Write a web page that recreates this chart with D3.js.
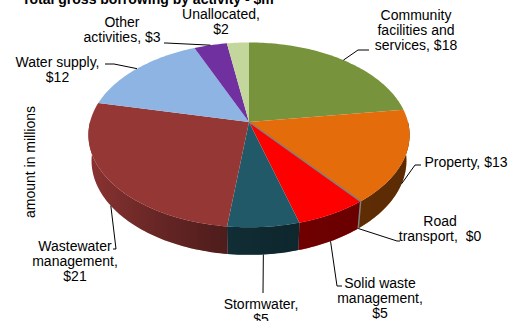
<!DOCTYPE html>
<html>
<head>
<meta charset="utf-8">
<script src="https://cdn.jsdelivr.net/npm/d3@7"></script>
<style>
  body { margin: 0; background: #fff; }
  svg { display: block; font-family: "Liberation Sans", Arial, sans-serif; }
</style>
</head>
<body>
<svg id="chart" width="511" height="321"></svg>
<script>
// ---- data ----
const categories = ["Community facilities and services", "Property", "Road transport",
  "Solid waste management", "Stormwater", "Wastewater management", "Water supply",
  "Other activities", "Unallocated"];
const values = [18, 13, 0, 5, 5, 21, 12, 3, 2];
const colors = ["#77933c", "#e46c0a", "#7f7f7f", "#ff0000", "#215968", "#953735",
  "#8db4e2", "#7030a0", "#c3d69b"];
// label lines; {v} is replaced by the slice value
const labelTemplates = [
  ["Community", "facilities and", "services, {v}"],
  ["Property, {v}"],
  ["Road", "transport,  {v}"],
  ["Solid waste", "management,", "{v}"],
  ["Stormwater,", "{v}"],
  ["Wastewater", "management,", "{v}"],
  ["Water supply,", "{v}"],
  ["Other", "activities, {v}"],
  ["Unallocated,", "{v}"]
];
const titleText = "Total gross borrowing by activity - $m";
const axisTitle = "amount in millions";

// ---- label layout: text centre / first baseline, leader knee and end, anchor on rim ----
const labelPos = [[416, 19.5], [466, 167], [440, 226], [380, 287.5], [261, 309],
  [75, 250.5], [57.5, 66.5], [122, 26.7], [221, 18.5]];
const leaderKnee = [[358, 50], [415, 165], [397, 241], [337, 286], [263, 293],
  [116, 249], [114, 64], [166, 43], null];
const leaderEnd = [[369, 50], [421, 165], [400, 241], [342, 286], [263, 293],
  [113, 249], [105, 64], [164, 43], null];
const anchorOnBottom = [false, true, true, true, true, true, false, false, false];

// ---- 3D projection of the pie ----
const cx = 249, cy = 122, R = 159, H = 32, D = 937;
const sinE = 0.57, cosE = Math.sqrt(1 - sinE * sinE);
function proj(theta, r, yw) {
  const back = r * Math.cos(theta);
  const X = r * Math.sin(theta);
  const u = yw * cosE + back * sinE;
  const v = back * cosE - yw * sinE;
  const s = D / (D + v);
  return [cx + X * s, cy - u * s];
}
function arcPoints(a0, a1, yw) {
  const n = Math.max(2, Math.ceil(Math.abs(a1 - a0) / 0.02));
  return d3.range(n + 1).map(i => proj(a0 + (a1 - a0) * i / n, R, yw));
}

const svg = d3.select("#chart");
const defs = svg.append("defs");
const shade = defs.append("linearGradient").attr("id", "sideShade")
  .attr("gradientUnits", "userSpaceOnUse")
  .attr("x1", cx - R).attr("x2", cx + R).attr("y1", 0).attr("y2", 0);
[[0, 0.08], [0.2, 0.3], [0.45, 0.5], [0.6, 0.56], [1, 0.6]].forEach(([o, a]) =>
  shade.append("stop").attr("offset", o).attr("stop-color", "#000").attr("stop-opacity", a));

const pie = d3.pie().sort(null).value(d => d)(values);
const line = d3.line();
const g = svg.append("g");

// side walls (front half only)
const lo = Math.PI / 2, hi = 3 * Math.PI / 2;
pie.forEach((p, i) => {
  const a0 = Math.max(p.startAngle, lo), a1 = Math.min(p.endAngle, hi);
  if (a1 <= a0) return;
  const pts = arcPoints(a0, a1, 0).concat(arcPoints(a1, a0, -H));
  const dPath = line(pts) + "Z";
  g.append("path").attr("d", dPath).attr("fill", colors[i]);
  g.append("path").attr("d", dPath).attr("fill", "url(#sideShade)");
});

// top faces
pie.forEach((p, i) => {
  if (p.endAngle - p.startAngle <= 0) return;
  const pts = [[cx, cy]].concat(arcPoints(p.startAngle, p.endAngle, 0));
  g.append("path").attr("d", line(pts) + "Z").attr("fill", colors[i]);
});

// zero-value slice drawn as an edge line
pie.forEach((p, i) => {
  if (p.endAngle - p.startAngle > 0) return;
  const a = p.startAngle;
  g.append("path").attr("d", line([[cx, cy], proj(a, R, 0), proj(a, R, -H)]))
    .attr("fill", "none").attr("stroke", colors[i]).attr("stroke-width", 1.5);
});

// leader lines
pie.forEach((p, i) => {
  if (!leaderKnee[i]) return;
  const mid = (p.startAngle + p.endAngle) / 2;
  const anchor = proj(mid, R, anchorOnBottom[i] ? -H : 0);
  g.append("path").attr("d", line([anchor, leaderKnee[i], leaderEnd[i]]))
    .attr("fill", "none").attr("stroke", "#000").attr("stroke-width", 1);
});

// data labels
pie.forEach((p, i) => {
  const t = svg.append("text").attr("text-anchor", "middle")
    .attr("font-size", 14).attr("fill", "#000");
  labelTemplates[i].forEach((ln, j) => {
    t.append("tspan").attr("x", labelPos[i][0]).attr("y", labelPos[i][1] + j * 15)
      .attr("xml:space", "preserve")
      .text(ln.replace("{v}", "$" + values[i]));
  });
});

// titles
svg.append("text").attr("x", 22).attr("y", 4).attr("font-size", 14)
  .attr("font-weight", "bold").text(titleText);
svg.append("text").attr("transform", "translate(35,162) rotate(-90)")
  .attr("text-anchor", "middle").attr("font-size", 14).text(axisTitle);
</script>
</body>
</html>
